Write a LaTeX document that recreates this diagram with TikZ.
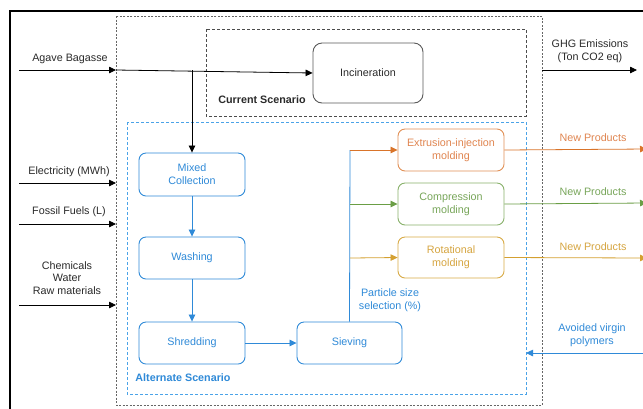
\documentclass[tikz,border=0pt]{standalone}
\usepackage{fontspec}
\setmainfont{Liberation Sans}
\usetikzlibrary{arrows.meta}
\definecolor{bl}{HTML}{2F8AD8}
\definecolor{bldash}{HTML}{4AA3E8}
\definecolor{orng}{HTML}{D9742A}
\definecolor{orngt}{HTML}{E08550}
\definecolor{grn}{HTML}{6A9E45}
\definecolor{grnt}{HTML}{78A65A}
\definecolor{gld}{HTML}{D4A030}
\definecolor{gldt}{HTML}{D6A540}
\definecolor{txt}{HTML}{2A2A2A}
\tikzset{
  every node/.style={font=\fontsize{10.8}{12.8}\selectfont, text=txt},
  proc/.style={draw, rounded corners=7bp, minimum width=106bp, minimum height=42bp, align=center, line width=0.9pt},
  bproc/.style={proc, draw=bl, text=bl},
  tip/.style={-{Triangle[length=7bp,width=6.5bp]}},
  lbl/.style={align=center},
}
\begin{document}
\begin{tikzpicture}[x=1bp,y=-1bp]
\useasboundingbox (0,0) rectangle (643,408);
\clip (0,0) rectangle (643,408);
\fill[white] (0,0) rectangle (643,408);
% outer frame
\draw[line width=1.3pt, black] (10,412) -- (10,11) -- (650,11);
% big dotted box
\draw[gray!80!black, line width=0.9pt, dash pattern=on 2bp off 1.5bp] (116,16) rectangle (542,405);
% current scenario
\draw[gray!60!black, line width=0.8pt, dash pattern=on 3bp off 2bp] (206,29) rectangle (526,116);
\node[font=\fontsize{10.8}{12}\selectfont\bfseries] (cs) at (262,100) {Current Scenario};
% alternate scenario
\draw[bldash, line width=0.9pt, dash pattern=on 3bp off 2bp] (127,122) rectangle (526,394);
\node[font=\fontsize{10.8}{12}\selectfont\bfseries, text=bl] (as) at (183,378) {Alternate Scenario};

% nodes
\node[proc, draw=gray!70!black, minimum width=110bp, minimum height=60bp, rounded corners=9bp] (inc) at (368,73) {Incineration};
\node[bproc, minimum height=43bp] (mix) at (192,174.5) {Mixed\\Collection};
\node[bproc] (wash) at (192,258) {Washing};
\node[bproc] (shred) at (192,343) {Shredding};
\node[bproc, minimum width=105bp] (siev) at (349.5,343) {Sieving};
\node[proc, draw=orng!80, text=orngt] (ext) at (451,150) {Extrusion-injection\\molding};
\node[proc, draw=grn!80, text=grnt] (comp) at (451,204) {Compression\\molding};
\node[proc, draw=gld!90, text=gldt, minimum height=41bp] (rot) at (451,257.5) {Rotational\\molding};

% coordinates
\coordinate (ag0) at (19,70);
\coordinate (ag1) at (116,70);
\coordinate (agb) at (192,70);
\coordinate (el0) at (19,183);
\coordinate (el1) at (116,183);
\coordinate (ff0) at (19,224);
\coordinate (ff1) at (116,224);
\coordinate (ch0) at (19,305);
\coordinate (ch1) at (116,305);
\coordinate (g0) at (542,70);
\coordinate (g1) at (637,70);
\coordinate (av0) at (646,353);
\coordinate (av1) at (526,353);
\coordinate (vtop) at (350,150);
\coordinate (vg) at (350,204);
\coordinate (vr) at (350,258);
\coordinate (oe) at (647,149);
\coordinate (og) at (647,203);
\coordinate (or) at (647,258);

% black connectors
\begin{scope}[line width=0.8pt, black]
\draw[tip] (ag0) -- (ag1);
\draw[tip] (ag1) -- (inc.west);
\draw[tip] (agb) -- (mix.north);
\draw[tip] (el0) -- (el1);
\draw[tip] (ff0) -- (ff1);
\draw[tip] (ch0) -- (ch1);
\draw[tip] (g0) -- (g1);
\end{scope}

% blue connectors
\begin{scope}[line width=0.8pt, bl]
\draw[tip] (mix) -- (wash);
\draw[tip] (wash) -- (shred);
\draw[tip] (shred) -- (siev);
\draw (siev.north) -- (vtop);
\draw[tip] (av0) -- (av1);
\end{scope}
\draw[tip, orng, line width=0.8pt] (vtop) -- (ext.west);
\draw[tip, grn, line width=0.8pt] (vg) -- (comp.west);
\draw[tip, gld, line width=0.8pt] (vr) -- (rot.west);
\draw[tip, orng, line width=0.8pt] (ext.east) -- (oe);
\draw[tip, grn, line width=0.8pt] (comp.east) -- (og);
\draw[tip, gld, line width=0.8pt] (rot.east) -- (or);

% labels
\node (lag) at (70,59) {Agave Bagasse};
\node (lel) at (69,172) {Electricity (MWh)};
\node (lff) at (69,212) {Fossil Fuels (L)};
\node[lbl] (lch) at (67,278) {Chemicals\\Water\\Raw materials};
\node[lbl] (lghg) at (590,51) {GHG Emissions\\(Ton CO2 eq)};
\node[text=orngt] (lnp1) at (593,138) {New Products};
\node[text=grnt] (lnp2) at (593,192) {New Products};
\node[text=gldt] (lnp3) at (593,247) {New Products};
\node[lbl, text=bl] (lav) at (592,335) {Avoided virgin\\polymers};
\node[lbl, text=bl] (lps) at (390,300) {Particle size\\selection (\%)};
\end{tikzpicture}
\end{document}
